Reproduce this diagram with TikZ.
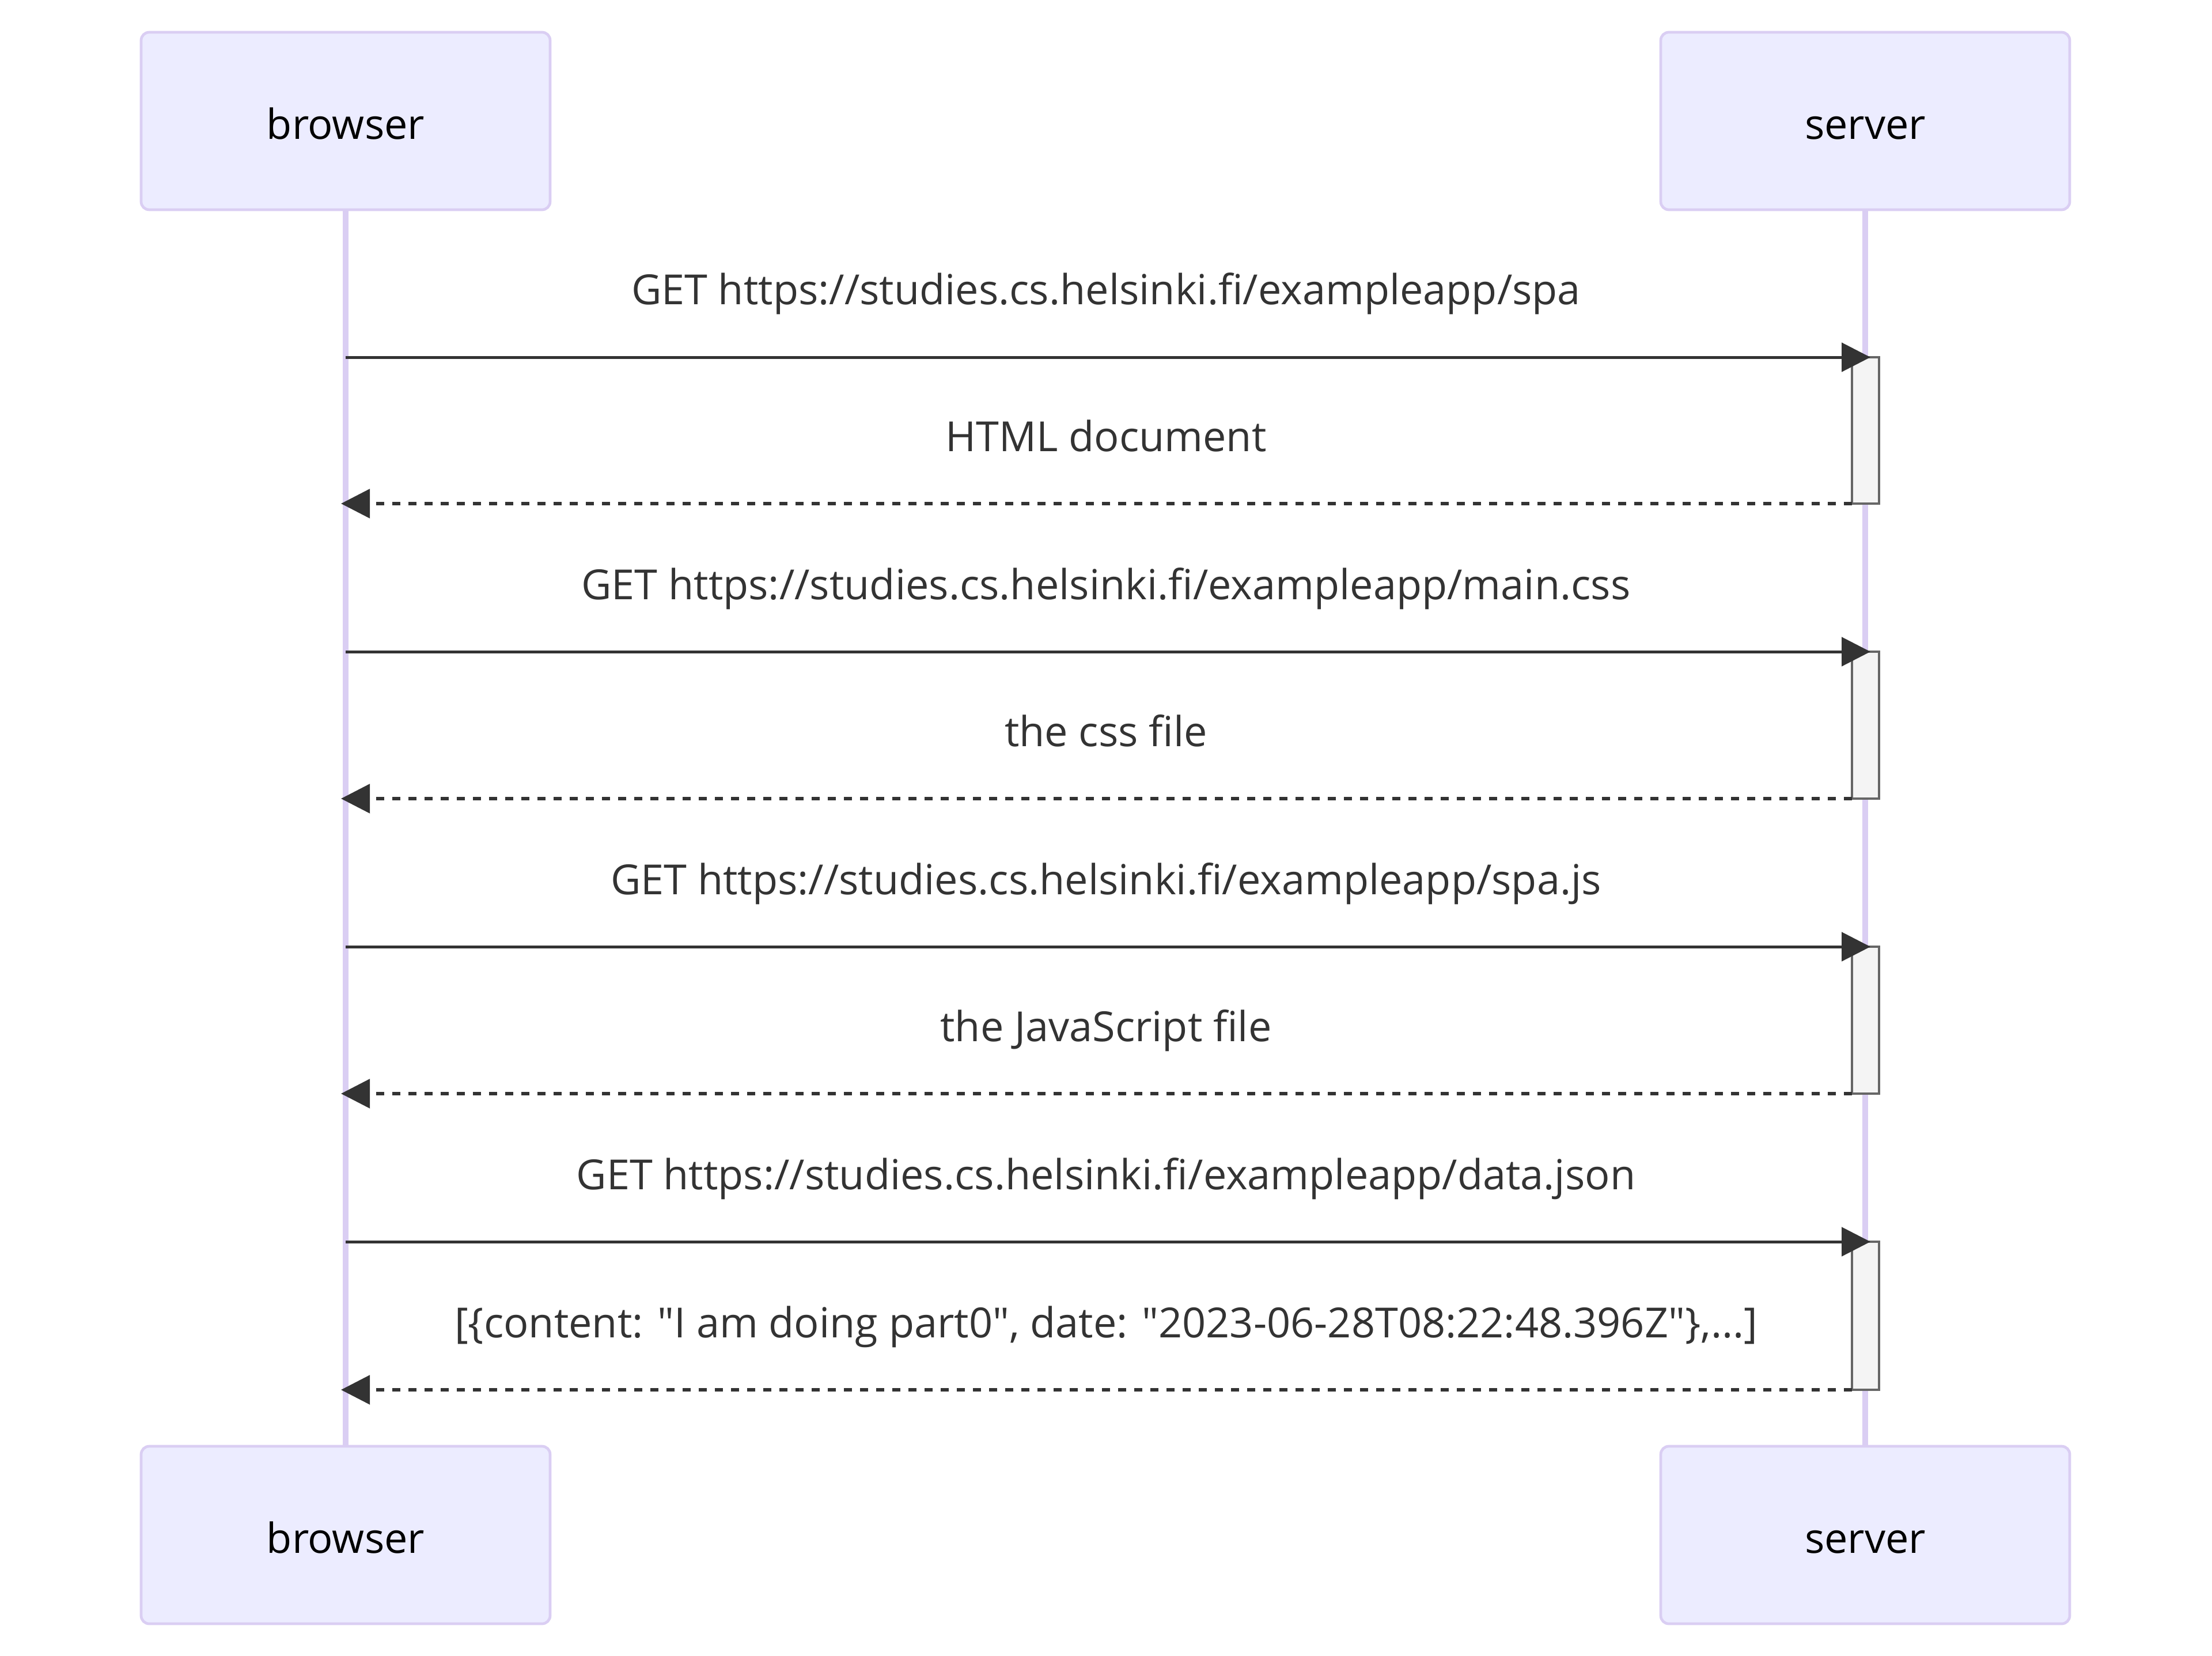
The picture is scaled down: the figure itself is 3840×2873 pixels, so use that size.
\documentclass[tikz,border=0pt]{standalone}
\usepackage{fontspec}
\setmainfont{Open Sans}
\usetikzlibrary{arrows.meta}
\newcommand\dqt{\XeTeXglyph\XeTeXcharglyph"22\relax}
\definecolor{actfill}{HTML}{ECECFF}
\definecolor{actline}{HTML}{DACEF3}
\definecolor{msgcol}{HTML}{333333}
\definecolor{actvfill}{HTML}{F4F4F4}
\definecolor{actvline}{HTML}{666666}
\tikzset{
  actor/.style={draw=actline, fill=actfill, line width=4.7pt, rounded corners=14pt,
    minimum width=710pt, minimum height=308pt, inner sep=0pt,
    font=\fontsize{72}{86}\selectfont, text=black, text height=62pt, text depth=0pt},
  lifeline/.style={draw=actline, line width=9.5pt},
  msgtext/.style={font=\fontsize{72}{86}\selectfont, text=msgcol, inner sep=0pt,
    text height=54pt, text depth=17pt, anchor=center},
  req/.style={draw=msgcol, line width=5pt, -{Triangle[length=50pt,width=50pt]}},
  resp/.style={draw=msgcol, line width=5.5pt, dash pattern=on 14pt off 14pt, -{Triangle[length=50pt,width=50pt]}},
  activ/.style={draw=actvline, fill=actvfill, line width=4.7pt},
}
\begin{document}
\begin{tikzpicture}[x=1pt,y=-1pt]
\useasboundingbox (0,0) rectangle (3840,2873);
% lifelines
\coordinate (bt) at (600,362);
\coordinate (bb) at (600,2508);
\coordinate (st) at (3238,362);
\coordinate (sb) at (3238,2508);
\draw[lifeline] (bt) -- (bb);
\draw[lifeline] (st) -- (sb);
% actors
\node[actor] (b1) at (600,210) {browser};
\node[actor] (s1) at (3238,210) {server};
\node[actor] (b2) at (600,2664) {browser};
\node[actor] (s2) at (3238,2664) {server};
% activations
\foreach \i/\ya/\yb in {1/620/874, 2/1131/1386, 3/1643/1898, 4/2155/2412}{
  \draw[activ] (3215,\ya) rectangle (3262,\yb);
  \coordinate (rq\i a) at (600,\ya);
  \coordinate (rq\i b) at (3247,\ya);
  \coordinate (rs\i a) at (3215,\yb);
  \coordinate (rs\i b) at (592,\yb);
}
% messages
\draw[req] (rq1a) -- (rq1b);
\draw[resp] (rs1a) -- (rs1b);
\draw[req] (rq2a) -- (rq2b);
\draw[resp] (rs2a) -- (rs2b);
\draw[req] (rq3a) -- (rq3b);
\draw[resp] (rs3a) -- (rs3b);
\draw[req] (rq4a) -- (rq4b);
\draw[resp] (rs4a) -- (rs4b);
% labels
\node[msgtext] (t1) at (1920,510) {GET https://studies.cs.helsinki.fi/exampleapp/spa};
\node[msgtext] (t2) at (1920,765) {HTML document};
\node[msgtext] (t3) at (1920,1022) {GET https://studies.cs.helsinki.fi/exampleapp/main.css};
\node[msgtext] (t4) at (1920,1277) {the css file};
\node[msgtext] (t5) at (1920,1534) {GET https://studies.cs.helsinki.fi/exampleapp/spa.js};
\node[msgtext] (t6) at (1920,1789) {the JavaScript file};
\node[msgtext] (t7) at (1920,2046) {GET https://studies.cs.helsinki.fi/exampleapp/data.json};
\node[msgtext] (t8) at (1920,2303) {[\{content: \dqt I am doing part0\dqt, date: \dqt 2023-06-28T08:22:48.396Z\dqt\},...]};
\end{tikzpicture}
\end{document}
